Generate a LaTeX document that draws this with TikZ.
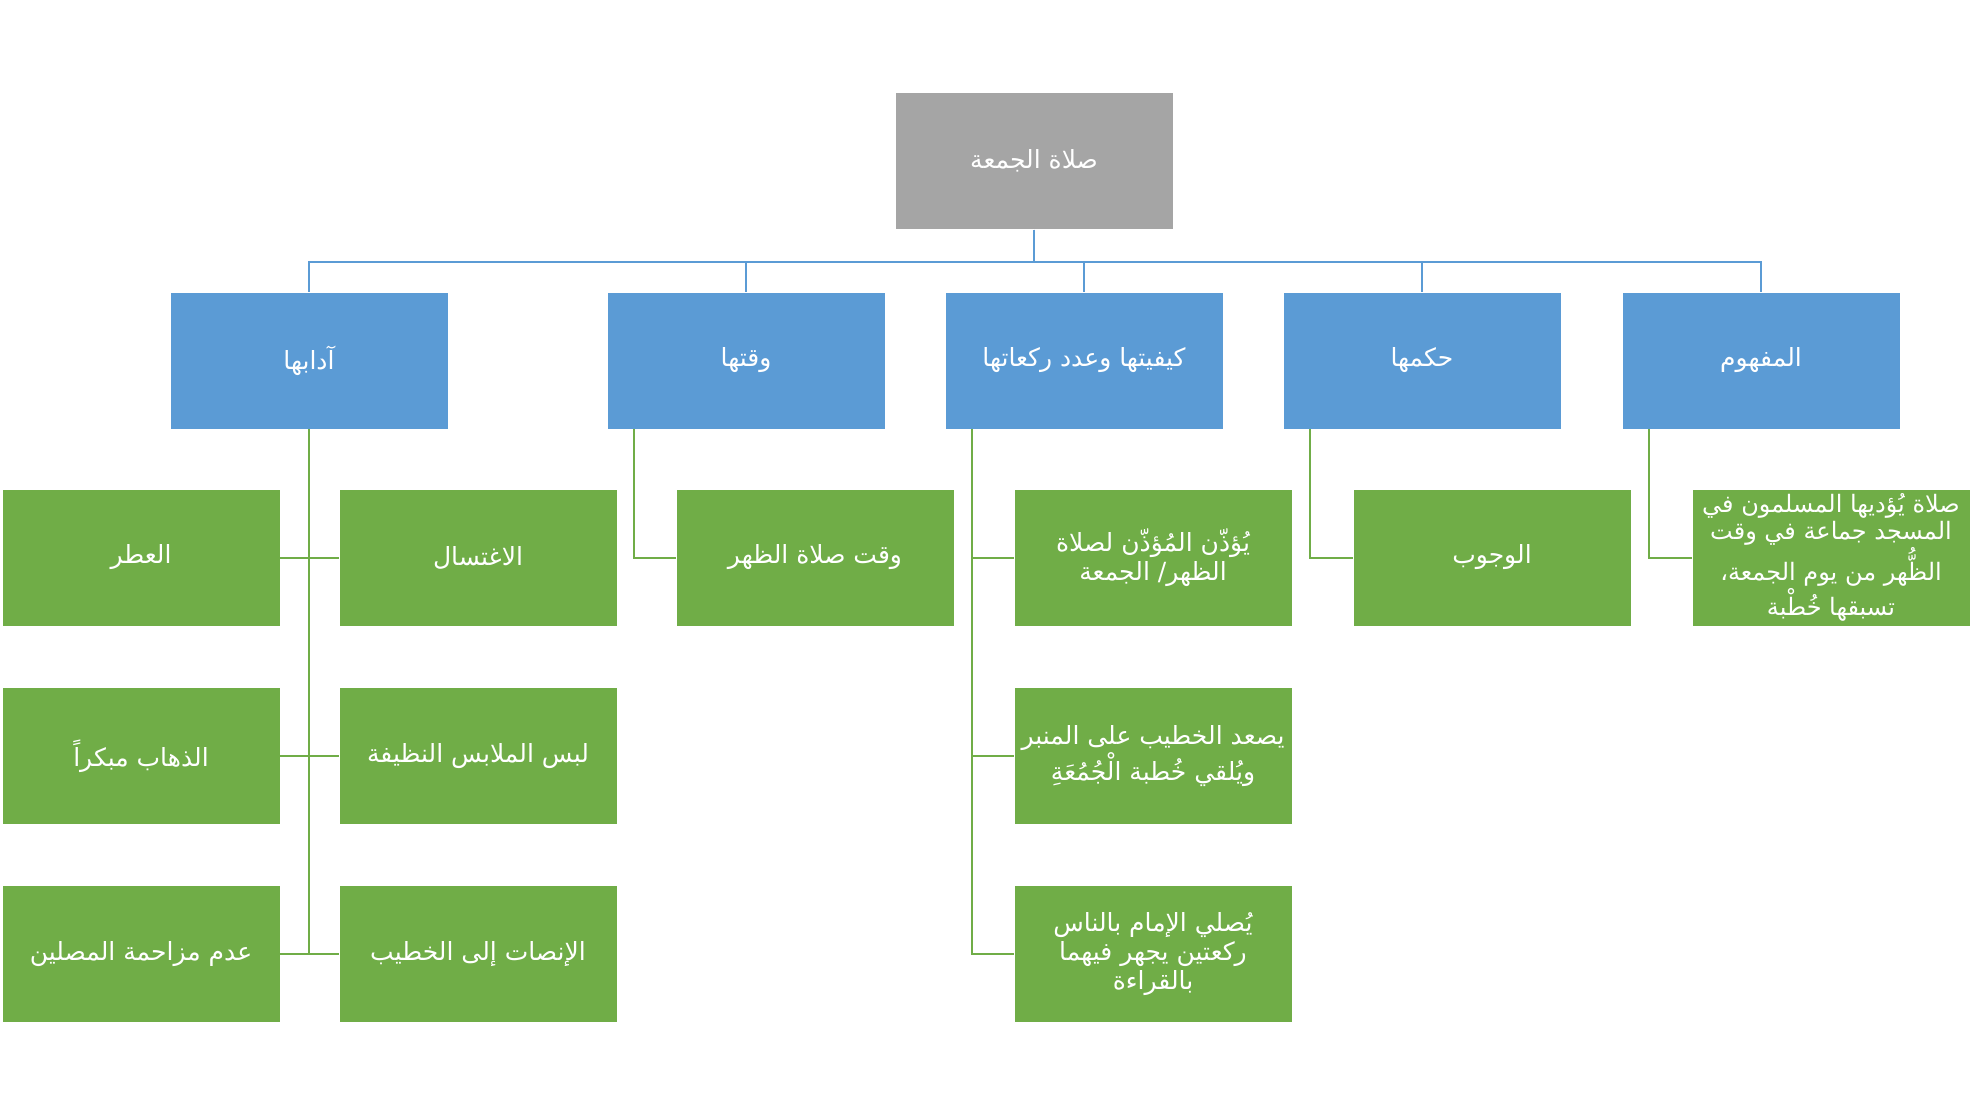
\documentclass[tikz,border=0pt]{standalone}
\usepackage{fontspec}
\newfontfamily\arabicfont[Script=Arabic]{DejaVu Sans}
\TeXXeTstate=1
\usepackage{tikz}
\usetikzlibrary{positioning}
\definecolor{rootgray}{HTML}{A5A5A5}
\definecolor{headblue}{HTML}{5B9BD5}
\definecolor{leafgreen}{HTML}{70AD47}
\tikzset{box/.style={draw=white, line width=.4pt, minimum width=139pt, minimum height=68.5pt, inner sep=1pt, align=center, text=white, font=\arabicfont\fontsize{12.5}{14.5}\selectfont}}
\tikzset{root/.style={box, fill=rootgray}}
\tikzset{head/.style={box, fill=headblue}}
\tikzset{leaf/.style={box, fill=leafgreen}}
\tikzset{hl/.style={draw=headblue, line width=1pt}}
\tikzset{gl/.style={draw=leafgreen, line width=1pt}}
\newcommand{\rl}[1]{\beginR #1\endR}

\begin{document}
\begin{tikzpicture}[x=.5pt, y=-.5pt]
  \useasboundingbox (0,0) rectangle (1986,1116);
  % top
  \node[root] (root) at (1034,161) {\rl{صلاة الجمعة}};
  % second row
  \node[head] (adab) at (309,360.5) {\rl{آدابها}};
  \node[head] (waqt) at (746,360.5) {\rl{وقتها}};
  \node[head] (kayf) at (1084,360.5) {\rl{كيفيتها وعدد ركعاتها}};
  \node[head] (hukm) at (1422,360.5) {\rl{حكمها}};
  \node[head] (mafh) at (1761,360.5) {\rl{المفهوم}};
  % leaves
  \node[leaf] (adab1) at (478,557.5) {\rl{الاغتسال}};
  \node[leaf] (adab2) at (141,557.5) {\rl{العطر}};
  \node[leaf] (adab3) at (478,756) {\rl{لبس الملابس النظيفة}};
  \node[leaf] (adab4) at (141,756) {\rl{الذهاب مبكراً}};
  \node[leaf] (adab5) at (478,954) {\rl{الإنصات إلى الخطيب}};
  \node[leaf] (adab6) at (141,954) {\rl{عدم مزاحمة المصلين}};
  \node[leaf] (waqt1) at (815,557.5) {\rl{وقت صلاة الظهر}};
  \node[leaf] (kayf1) at (1153,557.5) {\rl{يُؤذّن المُؤذّن لصلاة}\\\rl{الظهر/ الجمعة}};
  \node[leaf] (kayf2) at (1153,756) {\rl{يصعد الخطيب على المنبر}\\\rl{ويُلقي خُطبة الْجُمُعَةِ}};
  \node[leaf] (kayf3) at (1153,954) {\rl{يُصلي الإمام بالناس}\\\rl{ركعتين يجهر فيهما}\\\rl{بالقراءة}};
  \node[leaf] (hukm1) at (1492,557.5) {\rl{الوجوب}};
  \node[leaf, font=\arabicfont\fontsize{12}{13.6}\selectfont] (mafh1) at (1831,557.5) {\rl{صلاة يُؤديها المسلمون في}\\\rl{المسجد جماعة في وقت}\\\rl{الظُّهر من يوم الجمعة،}\\\rl{تسبقها خُطْبة}};
  % connectors
  \foreach \h in {adab,waqt,kayf,hukm,mafh}
    \draw[hl] (root.south) -- ++(0,32) -| (\h.north);
  \draw[gl] (adab.south) -- (adab.south |- adab6.east);
  \draw[gl] (adab2.east) -- (adab1.west);
  \draw[gl] (adab4.east) -- (adab3.west);
  \draw[gl] (adab6.east) -- (adab5.west);
  \draw[gl] ([xshift=13.5pt]waqt.south west) |- (waqt1.west);
  \foreach \c in {kayf1,kayf2,kayf3}
    \draw[gl] ([xshift=13.5pt]kayf.south west) |- (\c.west);
  \draw[gl] ([xshift=13.5pt]hukm.south west) |- (hukm1.west);
  \draw[gl] ([xshift=13.5pt]mafh.south west) |- (mafh1.west);
\end{tikzpicture}
\end{document}
